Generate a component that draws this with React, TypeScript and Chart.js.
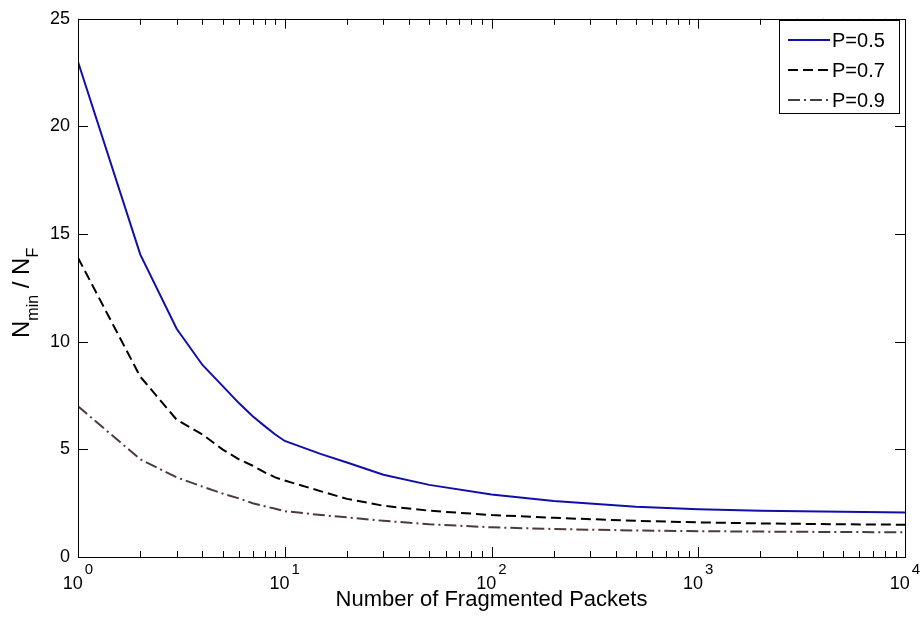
import React, { useEffect, useRef } from "react";
import { Chart, registerables } from "chart.js";

Chart.register(...registerables);

// ---- data ----
const packets = [1, 2, 3, 4, 5, 6, 7, 8, 9, 10, 15, 20, 30, 50, 100, 200, 500, 1000, 2000, 5000, 10000];
const ratioP05 = [23.0, 14.06, 10.6, 8.92, 7.95, 7.15, 6.54, 6.08, 5.69, 5.39, 4.78, 4.39, 3.82, 3.35, 2.9, 2.6, 2.33, 2.22, 2.15, 2.1, 2.07];
const ratioP07 = [13.9, 8.38, 6.38, 5.69, 5.0, 4.54, 4.24, 3.93, 3.7, 3.55, 3.05, 2.7, 2.38, 2.15, 1.95, 1.82, 1.68, 1.61, 1.56, 1.52, 1.5];
const ratioP09 = [7.0, 4.54, 3.7, 3.27, 2.95, 2.72, 2.5, 2.36, 2.24, 2.13, 1.95, 1.84, 1.68, 1.52, 1.38, 1.3, 1.23, 1.2, 1.18, 1.16, 1.15];
const seriesLabels = ["P=0.5", "P=0.7", "P=0.9"];
const yTickValues = [0, 5, 10, 15, 20, 25];
const xDecades = [1, 10, 100, 1000, 10000];
const xExponents = ["0", "1", "2", "3", "4"];
const xTitle = "Number of Fragmented Packets";
const yTitleParts = [
  { text: "N", sub: false },
  { text: "min", sub: true },
  { text: " / ", sub: false },
  { text: "N", sub: false },
  { text: "F", sub: true },
];

const FONT = "'Liberation Sans', Arial, Helvetica, sans-serif";

const toPoints = (ys: number[]) => packets.map((x, i) => ({ x, y: ys[i] }));

const decorPlugin = {
  id: "decor",
  afterDraw(chart: any) {
    const { ctx, chartArea: a, scales } = chart;
    const xs = scales.x;
    const ys = scales.y;
    ctx.save();
    // frame
    ctx.strokeStyle = "#000";
    ctx.lineWidth = 1;
    ctx.setLineDash([]);
    ctx.strokeRect(Math.round(a.left) + 0.5, Math.round(a.top) + 0.5, Math.round(a.right - a.left), Math.round(a.bottom - a.top));
    // x ticks (major + minor), bottom and top, inward
    ctx.beginPath();
    for (let d = 1; d < xDecades[xDecades.length - 1]; d *= 10) {
      for (let k = 1; k < 10; k++) {
        const px = Math.round(xs.getPixelForValue(d * k)) + 0.5;
        const len = k === 1 ? 10 : 6;
        ctx.moveTo(px, a.bottom);
        ctx.lineTo(px, a.bottom - len);
        ctx.moveTo(px, a.top);
        ctx.lineTo(px, a.top + len);
      }
    }
    // y ticks left and right
    yTickValues.forEach((v) => {
      const py = Math.round(ys.getPixelForValue(v)) + 0.5;
      ctx.moveTo(a.left, py);
      ctx.lineTo(a.left + 10, py);
      ctx.moveTo(a.right, py);
      ctx.lineTo(a.right - 10, py);
    });
    ctx.stroke();

    // x tick labels 10^n
    ctx.fillStyle = "#000";
    ctx.textBaseline = "alphabetic";
    ctx.textAlign = "left";
    xDecades.forEach((v, i) => {
      const px = xs.getPixelForValue(v);
      ctx.font = `18px ${FONT}`;
      const w10 = ctx.measureText("10").width;
      ctx.font = `15px ${FONT}`;
      const we = ctx.measureText(xExponents[i]).width;
      const start = px - (w10 + 2 + we) / 2;
      ctx.font = `18px ${FONT}`;
      ctx.fillText("10", start, 589);
      ctx.font = `15px ${FONT}`;
      ctx.fillText(xExponents[i], start + w10 + 2, 574);
    });

    // y title with subscripts, rotated
    const mainSize = 24;
    const subSize = 16;
    let total = 0;
    yTitleParts.forEach((p) => {
      ctx.font = `${p.sub ? subSize : mainSize}px ${FONT}`;
      total += ctx.measureText(p.text).width;
    });
    ctx.save();
    ctx.translate(29, (a.top + a.bottom) / 2 + 5);
    ctx.rotate(-Math.PI / 2);
    let u = -total / 2;
    yTitleParts.forEach((p) => {
      ctx.font = `${p.sub ? subSize : mainSize}px ${FONT}`;
      ctx.fillText(p.text, u, p.sub ? 9 : 0);
      u += ctx.measureText(p.text).width;
    });
    ctx.restore();

    // legend box
    const bx = 779, by = 20, bw = 120, bh = 93;
    ctx.fillStyle = "#fff";
    ctx.fillRect(bx, by, bw, bh);
    ctx.strokeStyle = "#000";
    ctx.lineWidth = 1;
    ctx.strokeRect(bx + 0.5, by + 0.5, bw, bh);
    chart.data.datasets.forEach((ds: any, i: number) => {
      const ry = by + 20 + i * 30;
      ctx.save();
      ctx.strokeStyle = ds.borderColor;
      ctx.lineWidth = ds.borderWidth;
      ctx.setLineDash(ds.borderDash || []);
      ctx.beginPath();
      ctx.moveTo(bx + 9, ry);
      ctx.lineTo(bx + 51, ry);
      ctx.stroke();
      ctx.restore();
      ctx.fillStyle = "#000";
      ctx.font = `20px ${FONT}`;
      ctx.textBaseline = "middle";
      ctx.fillText(ds.label, bx + 53, ry + 1);
    });
    ctx.restore();
  },
};

export default function App() {
  const ref = useRef<HTMLCanvasElement | null>(null);
  useEffect(() => {
    if (!ref.current) return;
    const chart = new Chart(ref.current, {
      type: "line",
      data: {
        datasets: [
          {
            label: seriesLabels[0],
            data: toPoints(ratioP05),
            borderColor: "#1010a8",
            borderWidth: 2,
            borderDash: [],
            pointRadius: 0,
            tension: 0,
          },
          {
            label: seriesLabels[1],
            data: toPoints(ratioP07),
            borderColor: "#000000",
            borderWidth: 2,
            borderDash: [10, 5],
            pointRadius: 0,
            tension: 0,
          },
          {
            label: seriesLabels[2],
            data: toPoints(ratioP09),
            borderColor: "#4d3a3a",
            borderWidth: 2,
            borderDash: [12, 4, 2, 4],
            pointRadius: 0,
            tension: 0,
          },
        ],
      },
      options: {
        responsive: false,
        animation: false,
        layout: { padding: { left: 0, right: 15, top: 14, bottom: 0 } },
        plugins: { legend: { display: false }, tooltip: { enabled: false } },
        scales: {
          x: {
            type: "logarithmic",
            min: 1,
            max: 10000,
            grid: { display: false, drawTicks: false },
            border: { display: false },
            ticks: { display: false },
            title: {
              display: true,
              text: xTitle,
              color: "#000",
              font: { family: FONT, size: 22 },
              padding: { top: 0, bottom: 8 },
            },
            afterFit: (s: any) => {
              s.height = 64;
            },
          },
          y: {
            type: "linear",
            min: 0,
            max: 25,
            grid: { display: false, drawTicks: false },
            border: { display: false },
            ticks: {
              stepSize: 5,
              color: "#000",
              padding: 8,
              font: { family: FONT, size: 18 },
            },
            afterFit: (s: any) => {
              s.width = 78;
            },
          },
        },
      },
      plugins: [decorPlugin],
    });
    return () => chart.destroy();
  }, []);
  return (
    <div style={{ position: "absolute", left: 0, top: 0, width: 920, height: 621, background: "#fff" }}>
      <canvas ref={ref} width={920} height={621} style={{ display: "block" }} />
    </div>
  );
}
